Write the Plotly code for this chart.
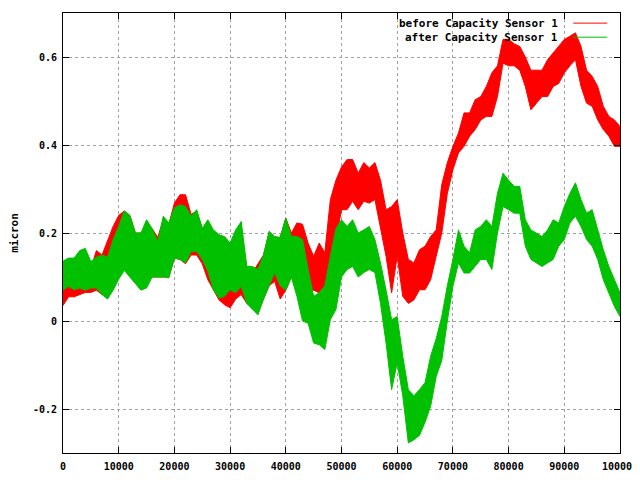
import plotly.graph_objects as go

# x positions (step 1000); upper and lower edges of each noisy trace
x_steps = list(range(0, 100001, 1000))

before_hi = [0.10, 0.11, 0.12, 0.11, 0.12, 0.12, 0.16, 0.15, 0.185, 0.215,
             0.24, 0.25, 0.24, 0.20, 0.20, 0.21, 0.21, 0.19, 0.23, 0.22,
             0.268, 0.287, 0.287, 0.242, 0.25, 0.21, 0.22, 0.20, 0.19, 0.19,
             0.17, 0.19, 0.20, 0.12, 0.11, 0.13, 0.15, 0.20, 0.19, 0.19,
             0.234, 0.20, 0.223, 0.22, 0.177, 0.147, 0.177, 0.155, 0.276, 0.32,
             0.35, 0.367, 0.367, 0.336, 0.36, 0.348, 0.36, 0.32, 0.253, 0.26,
             0.276, 0.20, 0.14, 0.132, 0.162, 0.17, 0.192, 0.207, 0.31, 0.36,
             0.397, 0.427, 0.473, 0.473, 0.503, 0.51, 0.533, 0.564, 0.58, 0.64,
             0.64, 0.63, 0.624, 0.60, 0.57, 0.57, 0.57, 0.594, 0.61, 0.624,
             0.64, 0.647, 0.655, 0.624, 0.57, 0.556, 0.533, 0.488, 0.465, 0.457,
             0.442]
before_lo = [0.035, 0.055, 0.055, 0.06, 0.065, 0.065, 0.07, 0.06, 0.07, 0.08,
             0.10, 0.12, 0.11, 0.10, 0.10, 0.09, 0.10, 0.10, 0.10, 0.10,
             0.143, 0.14, 0.13, 0.15, 0.15, 0.13, 0.094, 0.071, 0.048, 0.037,
             0.03, 0.05, 0.06, 0.04, 0.03, 0.02, 0.05, 0.08, 0.09, 0.05,
             0.07, 0.10, 0.07, 0.086, 0.064, 0.07, 0.064, 0.08, 0.132, 0.185,
             0.253, 0.253, 0.272, 0.253, 0.272, 0.268, 0.276, 0.207, 0.147, 0.064,
             0.147, 0.056, 0.04, 0.048, 0.071, 0.071, 0.094, 0.147, 0.20, 0.29,
             0.344, 0.382, 0.397, 0.42, 0.435, 0.457, 0.465, 0.465, 0.51, 0.586,
             0.58, 0.58, 0.57, 0.533, 0.48, 0.495, 0.51, 0.51, 0.533, 0.54,
             0.564, 0.58, 0.594, 0.533, 0.495, 0.488, 0.457, 0.435, 0.42, 0.397,
             0.397]

after_hi = [0.136, 0.143, 0.143, 0.16, 0.165, 0.135, 0.145, 0.15, 0.145, 0.185,
            0.215, 0.25, 0.24, 0.20, 0.20, 0.23, 0.21, 0.18, 0.238, 0.223,
            0.257, 0.264, 0.26, 0.238, 0.253, 0.21, 0.23, 0.207, 0.196, 0.192,
            0.177, 0.207, 0.226, 0.124, 0.124, 0.117, 0.15, 0.204, 0.192, 0.19,
            0.234, 0.192, 0.192, 0.185, 0.117, 0.056, 0.064, 0.08, 0.147, 0.21,
            0.23, 0.215, 0.23, 0.20, 0.207, 0.215, 0.185, 0.132, 0.07, 0.003,
            0.01, -0.08, -0.156, -0.17, -0.156, -0.14, -0.08, -0.04, 0.01, 0.08,
            0.14, 0.207, 0.17, 0.155, 0.207, 0.215, 0.23, 0.215, 0.29, 0.336,
            0.32, 0.306, 0.306, 0.23, 0.207, 0.20, 0.192, 0.207, 0.23, 0.223,
            0.26, 0.29, 0.314, 0.276, 0.245, 0.253, 0.207, 0.162, 0.124, 0.094,
            0.064]
after_lo = [0.07, 0.079, 0.071, 0.075, 0.07, 0.075, 0.075, 0.06, 0.05, 0.07,
            0.095, 0.115, 0.10, 0.085, 0.07, 0.075, 0.10, 0.10, 0.10, 0.098,
            0.143, 0.14, 0.132, 0.158, 0.158, 0.14, 0.113, 0.071, 0.052, 0.056,
            0.071, 0.064, 0.079, 0.04, 0.026, 0.014, 0.05, 0.08, 0.11, 0.08,
            0.07, 0.10, 0.056, 0.0, -0.005, -0.05, -0.054, -0.065, 0.003, 0.026,
            0.10, 0.117, 0.124, 0.10, 0.11, 0.117, 0.11, 0.04, -0.05, -0.156,
            -0.095, -0.17, -0.277, -0.27, -0.26, -0.23, -0.194, -0.126, -0.09, 0.0,
            0.079, 0.132, 0.109, 0.109, 0.124, 0.14, 0.14, 0.117, 0.20, 0.26,
            0.253, 0.245, 0.245, 0.17, 0.14, 0.132, 0.124, 0.132, 0.14, 0.17,
            0.185, 0.223, 0.238, 0.215, 0.185, 0.17, 0.14, 0.094, 0.064, 0.033,
            0.01]

x_tick_vals = [0, 10000, 20000, 30000, 40000, 50000, 60000, 70000, 80000, 90000, 100000]
x_tick_text = ["0", "10000", "20000", "30000", "40000", "50000", "60000", "70000", "80000", "90000", "100000"]
y_tick_vals = [-0.2, 0, 0.2, 0.4, 0.6]
y_tick_text = ["-0.2", "0", "0.2", "0.4", "0.6"]

series_names = ["before Capacity Sensor 1", "after Capacity Sensor 1"]
colors = ["#ff0000", "#00c000"]

fig = go.Figure()
for (hi, lo), name, col in zip([(before_hi, before_lo), (after_hi, after_lo)], series_names, colors):
    # dense noisy trace drawn as a solid band between its lower and upper edges
    fig.add_trace(go.Scatter(x=x_steps, y=lo, mode="lines", line=dict(color=col, width=1),
                             showlegend=False, hoverinfo="skip"))
    fig.add_trace(go.Scatter(x=x_steps, y=hi, mode="lines", line=dict(color=col, width=1),
                             fill="tonexty", fillcolor=col, name=name, showlegend=False))

tick_font = dict(family="DejaVu Sans Mono", size=10, color="black", weight="bold")

# page body has an 8px margin, so the figure is drawn 16px smaller than the window
fig.update_layout(
    width=624, height=464,
    margin=dict(l=55, r=12, t=5, b=19),
    paper_bgcolor="white", plot_bgcolor="white",
    xaxis=dict(range=[0, 100000], tickvals=x_tick_vals, ticktext=x_tick_text,
               showline=True, linecolor="black", linewidth=1, mirror="ticks",
               ticks="inside", ticklen=6, tickcolor="black", ticklabelstandoff=4,
               ticklabeloverflow="allow", automargin=False,
               showgrid=True, gridcolor="#a0a0a0", griddash="dot", gridwidth=1,
               zeroline=False, tickfont=tick_font),
    yaxis=dict(range=[-0.3, 0.7], tickvals=y_tick_vals, ticktext=y_tick_text,
               showline=True, linecolor="black", linewidth=1, mirror="ticks",
               ticks="inside", ticklen=6, tickcolor="black", ticklabelstandoff=3,
               automargin=False,
               showgrid=True, gridcolor="#a0a0a0", griddash="dot", gridwidth=1,
               zeroline=False, tickfont=tick_font,
               title=dict(text="micron", standoff=12,
                          font=dict(family="DejaVu Sans Mono", size=11, color="black", weight="bold"))),
)

# gnuplot-style key: right-aligned text followed by a line sample
key_y = [0.977, 0.945]
for name, col, ky in zip(series_names, colors, key_y):
    fig.add_annotation(xref="paper", yref="paper", x=0.893, y=ky, text=name,
                       showarrow=False, xanchor="right", yanchor="middle",
                       font=dict(family="DejaVu Sans Mono", size=11, color="black", weight="bold"))
    fig.add_shape(type="line", xref="paper", yref="paper", x0=0.916, x1=0.977, y0=ky, y1=ky,
                  line=dict(color=col, width=1))

fig.write_html("out.html")
